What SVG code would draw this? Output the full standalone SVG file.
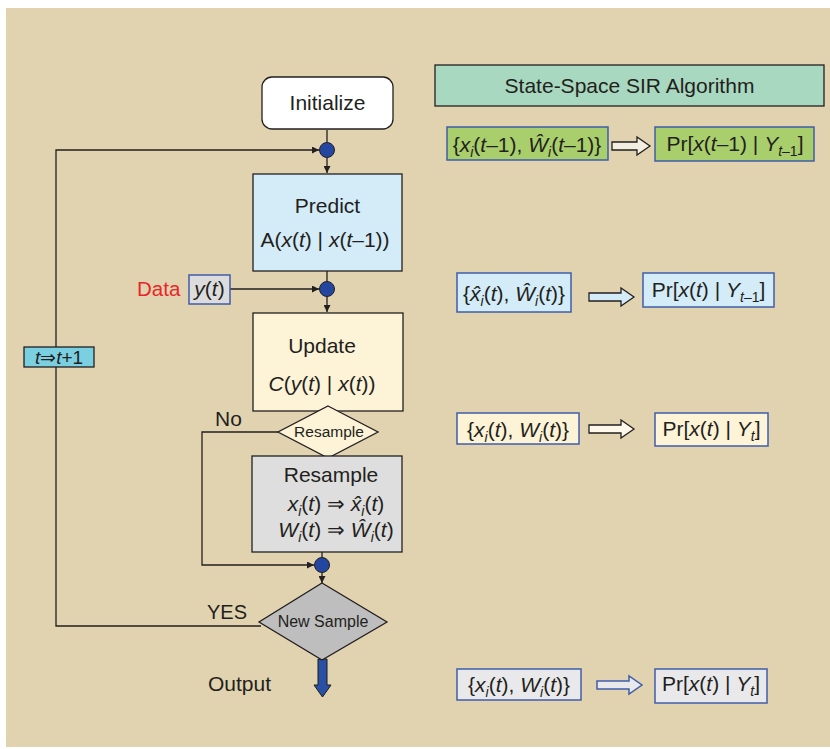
<svg xmlns="http://www.w3.org/2000/svg" width="830" height="749" viewBox="0 0 830 749">
  <defs>
    <marker id="arr" viewBox="0 0 10 10" refX="10" refY="5" markerWidth="7" markerHeight="7" markerUnits="userSpaceOnUse" orient="auto">
      <path d="M0,0 L10,5 L0,10 Z" fill="#231F20"/>
    </marker>
    <style>
      text { font-family: "Liberation Sans", Arial, sans-serif; fill: #231F20; }
      .lbl { font-size: 21px; }
      .m { font-size: 21px; }
      .i { font-style: italic; }
      .sub { font-size: 14px; }
      .box { stroke: #231F20; stroke-width: 1.3; }
      .bb { stroke: #3F5DAA; stroke-width: 1.5; }
      .conn { fill: none; stroke: #231F20; stroke-width: 1.3; }
      .dot { fill: #2347A0; stroke: #231F20; stroke-width: 1; }
      .blk { stroke: #231F20; stroke-width: 1.3; }
    </style>
  </defs>

  <!-- background panel -->
  <rect x="0" y="0" width="830" height="749" fill="#FFFFFF"/>
  <rect x="6" y="8" width="824" height="739" fill="#E1D3AF"/>

  <!-- connectors -->
  <g id="connectors">
    <line class="conn" x1="327" y1="130" x2="327" y2="142.5"/>
    <line class="conn" x1="327" y1="157.5" x2="327" y2="173" marker-end="url(#arr)"/>
    <line class="conn" x1="327" y1="271" x2="327" y2="281.5"/>
    <line class="conn" x1="230" y1="289" x2="319" y2="289" marker-end="url(#arr)"/>
    <line class="conn" x1="327" y1="296.5" x2="327" y2="312" marker-end="url(#arr)"/>
    <polyline class="conn" points="278,432 202,432 202,565 314,565" marker-end="url(#arr)"/>
    <line class="conn" x1="322" y1="552" x2="322" y2="557.5"/>
    <line class="conn" x1="322" y1="572.5" x2="322" y2="583" marker-end="url(#arr)"/>
    <polyline class="conn" points="261,626 56,626 56,150 319,150" marker-end="url(#arr)"/>
    <!-- output arrow -->
    <path d="M318,659 H327 V685 H331 L322.5,697 L314,685 H318 Z" fill="#2A50A5" stroke="#1A1A1A" stroke-width="1"/>
  </g>

  <!-- junction dots -->
  <g id="junctions">
    <circle class="dot" cx="327" cy="150" r="7.5"/>
    <circle class="dot" cx="327" cy="289" r="7.5"/>
    <circle class="dot" cx="322" cy="565" r="7.5"/>
  </g>

  <g id="initialize">
    <rect class="box" x="262" y="77" width="131" height="52" rx="10" fill="#FFFFFF"/>
    <text class="lbl" x="327.5" y="110" text-anchor="middle">Initialize</text>
  </g>

  <g id="predict">
    <rect class="box" x="253" y="174" width="149" height="97" fill="#D3ECF8"/>
    <text class="lbl" x="327.5" y="213" text-anchor="middle">Predict</text>
    <text class="m" x="325" y="247" text-anchor="middle">A(<tspan class="i">x</tspan>(<tspan class="i">t</tspan>) | <tspan class="i">x</tspan>(<tspan class="i">t</tspan>–1))</text>
  </g>

  <g id="data">
    <text x="137" y="296" font-size="20.5" style="fill:#E8262C">Data</text>
    <rect class="bb" x="189" y="275" width="41" height="29" fill="#DCDCDC"/>
    <text class="m" x="209.5" y="296" text-anchor="middle"><tspan class="i">y</tspan>(<tspan class="i">t</tspan>)</text>
  </g>

  <g id="update">
    <rect class="box" x="253" y="313" width="150" height="98" fill="#FDF3D7"/>
    <text class="lbl" x="322" y="353" text-anchor="middle">Update</text>
    <text class="m" x="322" y="391" text-anchor="middle"><tspan class="i">C</tspan>(<tspan class="i">y</tspan>(<tspan class="i">t</tspan>) | <tspan class="i">x</tspan>(<tspan class="i">t</tspan>))</text>
  </g>

  <g id="resample-decision">
    <polygon class="box" points="328,406 378,432 328,458 278,432" fill="#FDF3D7"/>
    <text x="329" y="437" font-size="15.5" text-anchor="middle">Resample</text>
    <text class="lbl" x="215" y="426">No</text>
  </g>

  <g id="resample">
    <rect class="box" x="252" y="456" width="150" height="96" fill="#DEDEDE"/>
    <text class="lbl" x="331" y="482" text-anchor="middle">Resample</text>
    <text class="m" x="336" y="511" text-anchor="middle"><tspan class="i">x</tspan><tspan class="sub i" dy="5">i</tspan><tspan dy="-5">(</tspan><tspan class="i">t</tspan>) ⇒ <tspan class="i">x̂</tspan><tspan class="sub i" dy="5">i</tspan><tspan dy="-5">(</tspan><tspan class="i">t</tspan>)</text>
    <text class="m" x="336" y="537" text-anchor="middle"><tspan class="i">W</tspan><tspan class="sub i" dy="5">i</tspan><tspan dy="-5">(</tspan><tspan class="i">t</tspan>) ⇒ <tspan class="i">Ŵ</tspan><tspan class="sub i" dy="5">i</tspan><tspan dy="-5">(</tspan><tspan class="i">t</tspan>)</text>
  </g>

  <g id="new-sample">
    <polygon class="box" points="322,583 387,622 322,660 259,622" fill="#BEBEBE"/>
    <text x="323" y="627" font-size="16" text-anchor="middle">New Sample</text>
    <text x="207" y="619" font-size="20">YES</text>
    <text class="lbl" x="208" y="691">Output</text>
  </g>

  <g id="time-step">
    <rect class="box" x="24" y="347" width="70" height="20" fill="#7ACFE0"/>
    <text x="59" y="364" font-size="19" text-anchor="middle"><tspan class="i">t</tspan>⇒<tspan class="i">t</tspan>+1</text>
  </g>

  <!-- legend column -->
  <g id="title">
    <rect class="box" x="435" y="65" width="389" height="41" fill="#A8D8BF"/>
    <text class="lbl" x="629.5" y="93" text-anchor="middle">State-Space SIR Algorithm</text>
  </g>

  <g id="row-prior">
    <rect class="bb" x="447" y="127" width="161" height="33" fill="#A9CE6C"/>
    <text class="m" x="527" y="152" text-anchor="middle">{<tspan class="i">x</tspan><tspan class="sub i" dy="5">i</tspan><tspan dy="-5">(</tspan><tspan class="i">t</tspan>–1), <tspan class="i">Ŵ</tspan><tspan class="sub i" dy="5">i</tspan><tspan dy="-5">(</tspan><tspan class="i">t</tspan>–1)}</text>
    <path class="blk" d="M612,142 H637 V137 L650,146 L637,155 V150 H612 Z" fill="#F2EEE0"/>
    <rect class="bb" x="655" y="127" width="159" height="34" fill="#A9CE6C"/>
    <text class="m" x="735" y="151" text-anchor="middle">Pr[<tspan class="i">x</tspan>(<tspan class="i">t</tspan>–1) | <tspan class="i">Y</tspan><tspan class="sub" dy="5"><tspan class="i">t</tspan>–1</tspan><tspan dy="-5">]</tspan></text>
  </g>

  <g id="row-predicted">
    <rect class="bb" x="457" y="273" width="114" height="39" fill="#D3ECF8"/>
    <text class="m" x="514" y="301" text-anchor="middle">{<tspan class="i">x̂</tspan><tspan class="sub i" dy="5">i</tspan><tspan dy="-5">(</tspan><tspan class="i">t</tspan>), <tspan class="i">Ŵ</tspan><tspan class="sub i" dy="5">i</tspan><tspan dy="-5">(</tspan><tspan class="i">t</tspan>)}</text>
    <path class="blk" d="M589,293 H621 V288 L634,297 L621,306 V301 H589 Z" fill="#D3ECF8"/>
    <rect class="bb" x="643" y="273" width="131" height="34" fill="#D3ECF8"/>
    <text class="m" x="708.5" y="297" text-anchor="middle">Pr[<tspan class="i">x</tspan>(<tspan class="i">t</tspan>) | <tspan class="i">Y</tspan><tspan class="sub" dy="5"><tspan class="i">t</tspan>–1</tspan><tspan dy="-5">]</tspan></text>
  </g>

  <g id="row-updated">
    <rect class="bb" x="457" y="413" width="122" height="31" fill="#FDF3D7"/>
    <text class="m" x="518" y="437" text-anchor="middle">{<tspan class="i">x</tspan><tspan class="sub i" dy="5">i</tspan><tspan dy="-5">(</tspan><tspan class="i">t</tspan>), <tspan class="i">W</tspan><tspan class="sub i" dy="5">i</tspan><tspan dy="-5">(</tspan><tspan class="i">t</tspan>)}</text>
    <path class="blk" d="M589,425 H621 V420 L634,429 L621,438 V433 H589 Z" fill="#FDF8EA"/>
    <rect class="bb" x="655" y="413" width="113" height="33" fill="#FDF3D7"/>
    <text class="m" x="711.5" y="436" text-anchor="middle">Pr[<tspan class="i">x</tspan>(<tspan class="i">t</tspan>) | <tspan class="i">Y</tspan><tspan class="sub i" dy="5">t</tspan><tspan dy="-5">]</tspan></text>
  </g>

  <g id="row-output">
    <rect class="bb" x="457" y="669" width="124" height="31" fill="#E9E9EB"/>
    <text class="m" x="519" y="692" text-anchor="middle">{<tspan class="i">x</tspan><tspan class="sub i" dy="5">i</tspan><tspan dy="-5">(</tspan><tspan class="i">t</tspan>), <tspan class="i">W</tspan><tspan class="sub i" dy="5">i</tspan><tspan dy="-5">(</tspan><tspan class="i">t</tspan>)}</text>
    <path d="M597,681 H629 V676 L642,685 L629,694 V689 H597 Z" fill="#E9E9EB" stroke="#3F5DAA" stroke-width="1.5"/>
    <rect class="bb" x="655" y="669" width="112" height="34" fill="#E9E9EB"/>
    <text class="m" x="711" y="691" text-anchor="middle">Pr[<tspan class="i">x</tspan>(<tspan class="i">t</tspan>) | <tspan class="i">Y</tspan><tspan class="sub i" dy="5">t</tspan><tspan dy="-5">]</tspan></text>
  </g>
</svg>
